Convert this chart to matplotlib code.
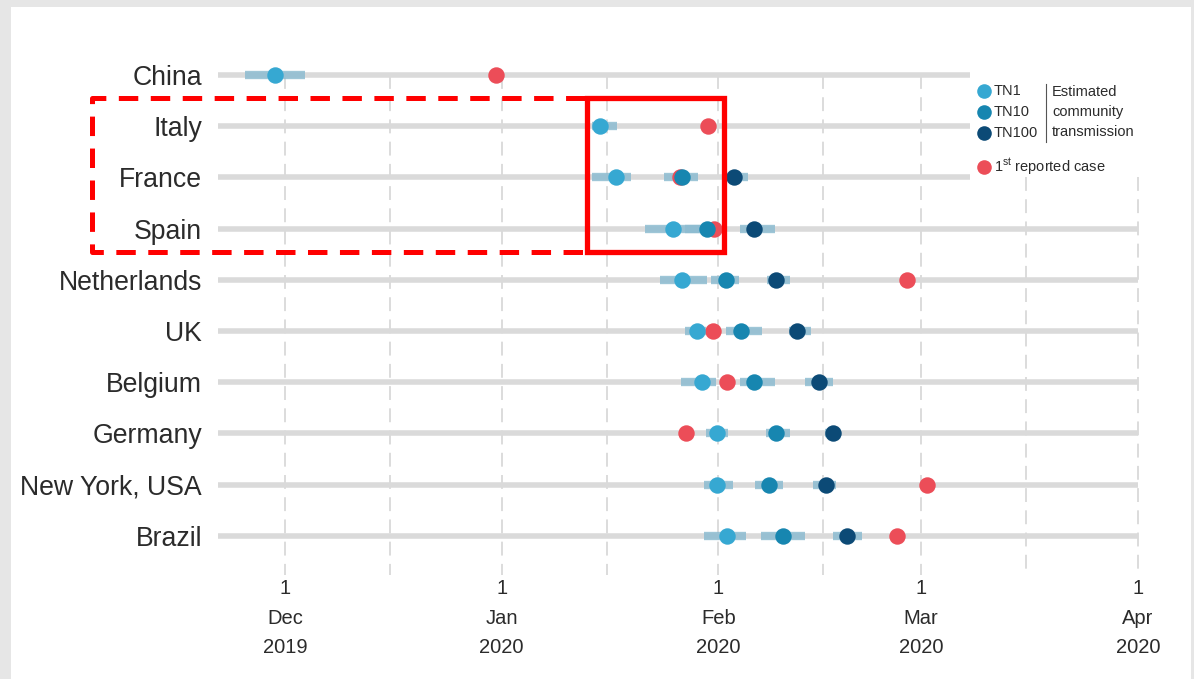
"""Estimated onset of community transmission vs. first reported case, per region."""

import matplotlib
matplotlib.use("Agg")
import matplotlib.pyplot as plt
import matplotlib.dates as mdates
import matplotlib.ticker as mticker
import numpy as np
from matplotlib.lines import Line2D
from matplotlib.patches import Rectangle

plt.rcParams["font.family"] = ["Liberation Sans", "DejaVu Sans"]
plt.rcParams["mathtext.fontset"] = "custom"
plt.rcParams["mathtext.rm"] = "Liberation Sans"
plt.rcParams["lines.scale_dashes"] = False

# ── Data (days after 1 Dec 2019) ────────────────────────────────────────────

START = np.datetime64("2019-12-01")
nan = np.nan

regions = ["China", "Italy", "France", "Spain", "Netherlands", "UK",
           "Belgium", "Germany", "New York, USA", "Brazil"]

tn1 = [-1.4, 45.1, 47.4, 55.5, 56.8, 58.9, 59.7, 61.8, 61.8, 63.2]
tn1_lo = [-5.7, 43.9, 43.9, 51.5, 53.7, 57.2, 56.7, 60.2, 59.9, 59.9]
tn1_hi = [2.9, 47.5, 49.5, 59.4, 60.4, 60.2, 61.7, 63.4, 64.1, 66.0]

tn10 = [nan, nan, 56.8, 60.4, 63.1, 65.2, 67.1, 70.2, 69.2, 71.2]
tn10_lo = [nan, nan, 54.2, 57.2, 60.9, 63.1, 65.1, 68.8, 67.2, 68.1]
tn10_hi = [nan, nan, 59.1, 62.2, 65.0, 68.2, 70.1, 72.3, 71.2, 74.4]

tn100 = [nan, nan, 64.2, 67.1, 70.2, 73.3, 76.4, 78.4, 77.4, 80.4]
tn100_lo = [nan, nan, 62.5, 65.1, 69.0, 72.1, 74.4, 77.3, 75.5, 78.4]
tn100_hi = [nan, nan, 66.2, 70.1, 72.3, 75.3, 78.4, 79.4, 78.8, 82.6]

first_case = [30.2, 60.5, 56.5, 61.4, 89.0, 61.2, 63.2, 57.4, 91.9, 87.6]

# ── Style ───────────────────────────────────────────────────────────────────

W, H = 1194, 679
C_TN1 = "#36a8d2"
C_TN10 = "#1786b0"
C_TN100 = "#0c4a76"
C_CASE = "#ec4d58"
C_CI = "#8dbcd1"
C_TRACK = "#dadada"
C_GRID = "#d2d2d2"
C_TEXT = "#2b2b2b"
RED = "#ff0000"


def px(x, y):
    """Pixel position -> figure fraction."""
    return x / W, 1 - y / H


def to_num(days):
    return mdates.date2num(START) + np.asarray(days, dtype=float)


fig = plt.figure(figsize=(W / 100, H / 100), dpi=100)
fig.patch.set_facecolor("#e6e6e6")
fig.add_artist(Rectangle(px(11, 679), (1191 - 11) / W, 1 - 7 / H,
                         transform=fig.transFigure, facecolor="white",
                         edgecolor="none", zorder=-10))

left, right, top, bottom = 218, 1150, 55, 575
ax = fig.add_axes([left / W, 1 - bottom / H, (right - left) / W, (bottom - top) / H])
ax.set_facecolor("none")

x0 = mdates.date2num(START)
ax.set_xlim(x0 - 9.585, x0 + 123.75)
ax.set_ylim(9.766, -0.39)
rows = np.arange(len(regions))

# dashed guides on the 1st and 16th of each month
legend_edge = mdates.date2num(np.datetime64("2020-03-08"))
last_day = mdates.date2num(np.datetime64("2020-04-01"))
for month in ["2019-12", "2020-01", "2020-02", "2020-03", "2020-04"]:
    for day in ["01", "16"]:
        d = mdates.date2num(np.datetime64(f"{month}-{day}"))
        if d > last_day:
            continue
        y_top = 2 if d > legend_edge else 0
        ax.vlines(d, y_top, 9.766, color=C_GRID, lw=1.1, zorder=1,
                  linestyles=(0, (10, 6)))

# grey tracks, the top three stop short of the legend
track_end = [legend_edge] * 3 + [last_day] * 7
ax.hlines(rows, ax.get_xlim()[0], track_end, color=C_TRACK, lw=4, zorder=2)

# uncertainty bars
for lo, hi in [(tn1_lo, tn1_hi), (tn10_lo, tn10_hi), (tn100_lo, tn100_hi)]:
    ax.hlines(rows, to_num(lo), to_num(hi), color=C_CI, lw=6, alpha=0.85,
              zorder=3, capstyle="butt")

dot = 140
ax.scatter(to_num(first_case), rows, s=dot, color=C_CASE, zorder=4, linewidths=0)
ax.scatter(to_num(tn1), rows, s=dot, color=C_TN1, zorder=5, linewidths=0)
ax.scatter(to_num(tn10), rows, s=dot, color=C_TN10, zorder=6, linewidths=0)
ax.scatter(to_num(tn100), rows, s=dot, color=C_TN100, zorder=7, linewidths=0)

# axes
ax.set_yticks(rows, regions)
ax.tick_params(axis="y", length=0, pad=11.5, labelsize=19.2, labelcolor=C_TEXT)
ax.xaxis.set_major_locator(mdates.MonthLocator(bymonthday=1))
ax.xaxis.set_major_formatter(mticker.FuncFormatter(
    lambda v, pos: (lambda d: f"{d.day}\n{d:%b}\n{d.year}")(mdates.num2date(v))))
ax.tick_params(axis="x", length=0, pad=3, labelsize=14.5, labelcolor=C_TEXT)
for lbl in ax.get_xticklabels():
    lbl.set_linespacing(1.7)
for s in ax.spines.values():
    s.set_visible(False)

# legend
for y, c, name in [(91, C_TN1, "TN1"), (112, C_TN10, "TN10"), (133, C_TN100, "TN100")]:
    fig.add_artist(Line2D(*[[v] for v in px(984, y)], marker="o", ms=10.5,
                          color=c, mew=0, transform=fig.transFigure))
    fig.text(*px(994, y), name, fontsize=10.5, color=C_TEXT, va="center", ha="left")
fig.add_artist(Line2D(*[[v] for v in px(984, 167)], marker="o", ms=10.5,
                      color=C_CASE, mew=0, transform=fig.transFigure))
fig.text(*px(994, 167), r"1$^{\rm st}$ reported case", fontsize=10.5,
         color=C_TEXT, va="center", ha="left")
fig.add_artist(Line2D([px(1046, 0)[0]] * 2, [px(0, 84)[1], px(0, 142)[1]],
                      color="#555555", lw=0.8, transform=fig.transFigure))
for y, word in [(92, "Estimated"), (112, "community"), (132, "transmission")]:
    fig.text(*px(1052, y), word, fontsize=10.5, color=C_TEXT, va="center", ha="left")

# highlight boxes around Italy / France / Spain
xs, ys = zip(*[px(585, 98), px(92, 98), px(92, 252), px(585, 252)])
fig.add_artist(Line2D(xs, ys, color=RED, lw=3.6, dashes=(14, 9),
                      transform=fig.transFigure, zorder=20))
fig.add_artist(Rectangle(px(587, 252), (724 - 587) / W, (252 - 98) / H,
                         transform=fig.transFigure, fill=False,
                         edgecolor=RED, lw=3.8, zorder=21))

fig.savefig("out.png", dpi=100)
